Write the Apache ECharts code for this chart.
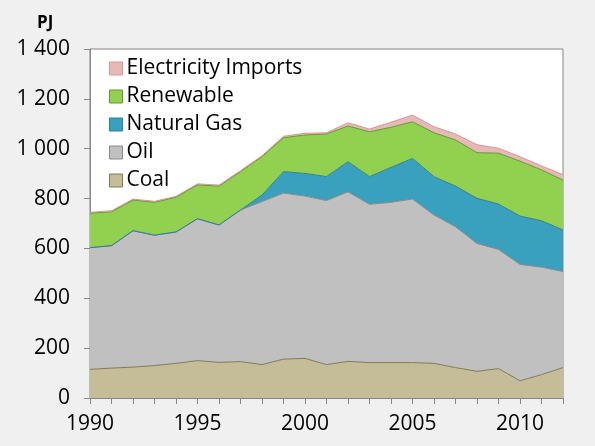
<!DOCTYPE html>
<html>
<head>
<meta charset="utf-8">
<script src="https://cdn.jsdelivr.net/npm/echarts@6/dist/echarts.min.js"></script>
<style>
  html, body { margin: 0; padding: 0; background: #f0f0f0; }
  #chart { width: 595px; height: 446px; }
</style>
</head>
<body>
<div id="chart"></div>
<script>
// years on the x axis
const years = ['1990', '1991', '1992', '1993', '1994', '1995', '1996', '1997', '1998', '1999', '2000',
  '2001', '2002', '2003', '2004', '2005', '2006', '2007', '2008', '2009', '2010', '2011', '2012']

// PJ per source (stacked, bottom to top)
const coal = [115, 120, 124, 130, 139, 150, 143, 146, 134, 156, 159, 134, 147, 142, 142, 142, 139, 122, 107, 118, 69, 94, 122]
const oil = [488, 491, 547, 523, 527, 569, 551, 608, 654, 666, 651, 658, 680, 635, 643, 656, 595, 565, 513, 478, 467, 431, 385]
const naturalGas = [0, 0, 0, 0, 0, 0, 0, 0, 26, 86, 91, 96, 121, 111, 140, 163, 154, 163, 181, 182, 194, 186, 167]
const renewable = [138, 136, 123, 132, 139, 136, 156, 154, 154, 136, 154, 171, 143, 180, 161, 147, 176, 185, 183, 204, 220, 204, 200]
const electricityImports = [4, 4, 4, 4, 4, 4, 4, 4, 4, 6, 7, 5, 13, 11, 20, 27, 24, 24, 32, 20, 18, 16, 22]

const yTicks = [0, 200, 400, 600, 800, 1000, 1200, 1400]

const FONT = 'Open Sans'

const sources = [
  { name : 'Coal', data : coal, fill : '#c4bd97', line : '#7f7a5e' },
  { name : 'Oil', data : oil, fill : '#c0c0c0', line : '#8a8a8a' },
  { name : 'Natural Gas', data : naturalGas, fill : '#39a0bd', line : '#2f7f99' },
  { name : 'Renewable', data : renewable, fill : '#92d050', line : '#5f9c30' },
  { name : 'Electricity Imports', data : electricityImports, fill : '#e6b9b8', line : '#d99694' }
]

function getSeries() {
  const series = []
  sources.forEach( item => {
    series.push( {
      name : item.name,
      type : 'line',
      stack : 'total',
      symbol : 'none',
      lineStyle : { width : 1, color : item.line },
      areaStyle : { color : item.fill, opacity : 1 },
      itemStyle : { color : item.fill, borderColor : item.line, borderWidth : 1 },
      data : item.data
    } )
  } )
  return series
}

function getLegendData() {
  return sources.slice().reverse().map( item => ( {
    name : item.name,
    itemStyle : { color : item.fill, borderColor : item.line, borderWidth : 1 }
  } ) )
}

function fmt( v ) {
  return String( v ).replace( /\B(?=(\d{3})+(?!\d))/g, ' ' )
}

const chart = echarts.init( document.getElementById( 'chart' ) )
chart.setOption( {
  backgroundColor : '#f0f0f0',
  animation : false,
  title : {
    text : 'PJ',
    left : 32,
    top : 10,
    textStyle : { fontFamily : FONT, fontSize : 17, fontWeight : 'bold', color : '#000' }
  },
  legend : {
    orient : 'vertical',
    left : 104,
    top : 53,
    icon : 'rect',
    itemWidth : 13,
    itemHeight : 13,
    itemGap : 7,
    data : getLegendData(),
    textStyle : { fontFamily : FONT, fontSize : 21, lineHeight : 21, color : '#000', padding : [0, 0, 0, -1] }
  },
  grid : {
    left : 90,
    right : 32,
    top : 49,
    bottom : 48,
    show : true,
    backgroundColor : '#ffffff',
    borderColor : '#868686',
    borderWidth : 1
  },
  xAxis : {
    type : 'category',
    boundaryGap : false,
    data : years,
    axisLine : { lineStyle : { color : '#868686', width : 1 } },
    axisTick : { show : true, interval : 0, length : 6, lineStyle : { color : '#868686' } },
    axisLabel : {
      interval : ( i ) => i % 5 === 0,
      margin : 16,
      fontFamily : FONT,
      fontSize : 21,
      color : '#000'
    },
    splitLine : { show : false }
  },
  yAxis : {
    type : 'value',
    min : yTicks[0],
    max : yTicks[yTicks.length - 1],
    interval : 200,
    axisLine : { show : true, lineStyle : { color : '#868686', width : 1 } },
    axisTick : { show : true, length : 6, lineStyle : { color : '#868686' } },
    axisLabel : {
      margin : 20,
      fontFamily : FONT,
      fontSize : 21,
      color : '#000',
      formatter : fmt
    },
    splitLine : { show : false }
  },
  series : getSeries()
} )
</script>
</body>
</html>
